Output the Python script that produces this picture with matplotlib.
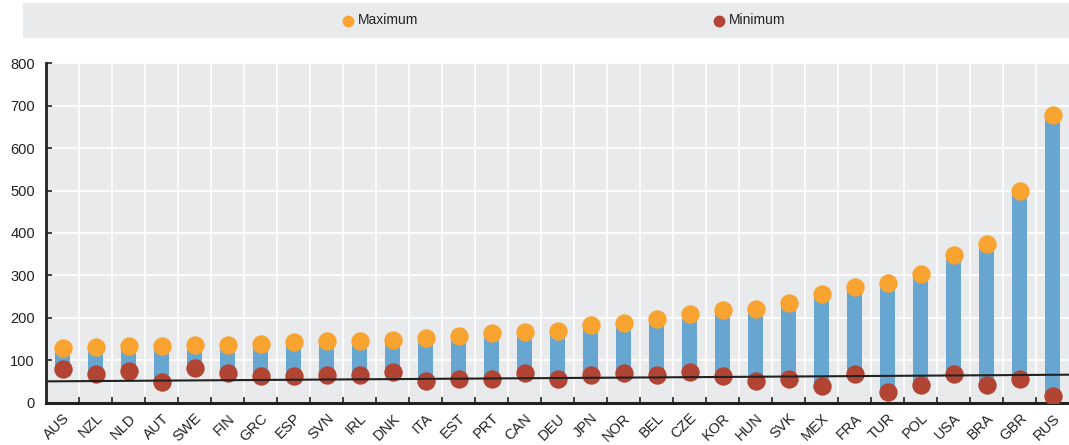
import matplotlib
matplotlib.use("Agg")
import matplotlib.pyplot as plt
from matplotlib.patches import Rectangle

countries = ["AUS", "NZL", "NLD", "AUT", "SWE", "FIN", "GRC", "ESP", "SVN", "IRL",
             "DNK", "ITA", "EST", "PRT", "CAN", "DEU", "JPN", "NOR", "BEL", "CZE",
             "KOR", "HUN", "SVK", "MEX", "FRA", "TUR", "POL", "USA", "BRA", "GBR", "RUS"]
maximum = [128, 132, 134, 134, 137, 137, 138, 142, 145, 145,
           148, 152, 158, 164, 166, 170, 182, 189, 198, 210,
           218, 222, 235, 256, 273, 282, 303, 347, 375, 500, 678]
minimum = [79, 68, 75, 49, 81, 69, 64, 64, 66, 65,
           72, 52, 56, 57, 71, 57, 65, 71, 65, 72,
           63, 50, 55, 39, 67, 26, 41, 67, 42, 56, 16]
trend_x = [-0.5, 30.5]
trend_y = [50.3, 66.0]
yticks = [0, 100, 200, 300, 400, 500, 600, 700, 800]

plt.rcParams['font.family'] = ['Liberation Sans', 'DejaVu Sans']

W, H = 1069, 445
fig = plt.figure(figsize=(W / 100, H / 100), dpi=100)
ax = fig.add_axes([46 / W, 1 - 402.7 / H, (1069 - 46) / W, (402.7 - 63.3) / H])

bg = "#E9EAEC"
c_bar = "#67A6D1"
c_max = "#F9A431"
c_min = "#B24434"

ax.set_facecolor(bg)
x = list(range(len(countries)))
heights = [mx - mn for mx, mn in zip(maximum, minimum)]
ax.bar(x, heights, bottom=minimum, width=0.45, color=c_bar, zorder=2)
ax.scatter(x, maximum, s=175, color=c_max, zorder=3, linewidths=0)
ax.scatter(x, minimum, s=175, color=c_min, zorder=4, linewidths=0)
ax.plot(trend_x, trend_y, color="#222222", lw=1.5, zorder=5)

ax.set_xlim(-0.5, len(countries) - 0.5)
ax.set_ylim(0, 800)
ax.set_yticks(yticks)
ax.set_yticklabels([str(v) for v in yticks], fontsize=10.5, color="#222222")

ax.set_xticks([i + 0.5 for i in range(len(countries) - 1)], minor=False)
ax.set_xticklabels([])
ax.set_xticks(x, minor=True)
ax.set_xticklabels(countries, minor=True, rotation=45, ha="right", va="top",
                   rotation_mode="anchor", fontsize=10.5, color="#222222")
ax.tick_params(axis="x", which="minor", length=0, pad=6)
ax.tick_params(axis="x", which="major", direction="in", length=4, width=1.2, color="#222222")
ax.tick_params(axis="y", direction="in", length=4, width=1.2, color="#222222", pad=8)

ax.grid(True, which="major", color="white", lw=1.2, zorder=0)
ax.set_axisbelow(True)

for s in ["top", "right"]:
    ax.spines[s].set_visible(False)
ax.spines["left"].set_linewidth(2)
ax.spines["bottom"].set_linewidth(2.2)
ax.spines["left"].set_color("#222222")
ax.spines["bottom"].set_color("#222222")

# legend box
fig.patches.append(Rectangle((23 / W, 1 - 37.5 / H), (1069 - 23) / W, 34.5 / H,
                             transform=fig.transFigure, facecolor=bg, edgecolor="none", zorder=0))
ly = 1 - 20.5 / H
fig.lines.append(plt.Line2D([348 / W], [ly], transform=fig.transFigure, marker="o",
                            markersize=7.5, color=c_max, linestyle="none"))
fig.text(358 / W, ly, "Maximum", fontsize=10, va="center", ha="left", color="#222222")
fig.lines.append(plt.Line2D([719 / W], [ly], transform=fig.transFigure, marker="o",
                            markersize=7.5, color=c_min, linestyle="none"))
fig.text(729 / W, ly, "Minimum", fontsize=10, va="center", ha="left", color="#222222")

fig.savefig("out.png", dpi=100)
